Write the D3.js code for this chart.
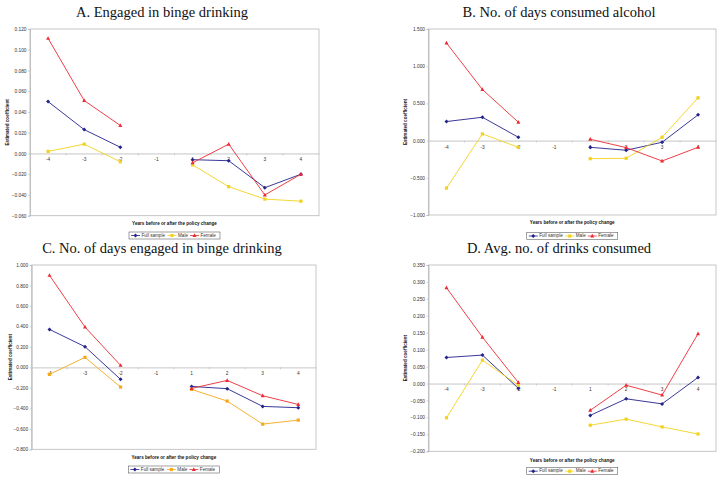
<!DOCTYPE html>
<html>
<head>
<meta charset="utf-8">
<script src="https://cdn.jsdelivr.net/npm/d3@7"></script>
<style>
  html, body { margin: 0; padding: 0; background: #fff; }
  svg { display: block; }
</style>
</head>
<body>
<svg id="chart" width="724" height="482"></svg>
<script>
// ---------------- DATA ----------------
const categories = ["-4", "-3", "-2", "-1", "1", "2", "3", "4"];
const seriesNames = ["Full sample", "Male", "Female"];
const panelTitles = [
  "A. Engaged in binge drinking",
  "B. No. of days consumed alcohol",
  "C. No. of days engaged in binge drinking",
  "D. Avg. no. of drinks consumed"
];
const xAxisTitle = "Years before or after the policy change";
const yAxisTitle = "Estimated coefficient";

// Panel A
const aFull   = [0.050, 0.023, 0.006, null, -0.006, -0.007, -0.033, -0.020];
const aMale   = [0.002, 0.009, -0.008, null, -0.011, -0.032, -0.044, -0.046];
const aFemale = [0.111, 0.051, 0.027, null, -0.009, 0.009, -0.040, -0.020];
const aTicks  = [-0.06, -0.04, -0.02, 0, 0.02, 0.04, 0.06, 0.08, 0.10, 0.12];

// Panel B
const bFull   = [0.256, 0.314, 0.045, null, -0.090, -0.130, -0.022, 0.346];
const bMale   = [-0.638, 0.090, -0.090, null, -0.243, -0.238, 0.045, 0.575];
const bFemale = [1.312, 0.687, 0.247, null, 0.018, -0.094, -0.274, -0.090];
const bTicks  = [-1.0, -0.5, 0, 0.5, 1.0, 1.5];

// Panel C
const cFull   = [0.371, 0.202, -0.117, null, -0.186, -0.208, -0.381, -0.394];
const cMale   = [-0.068, 0.098, -0.192, null, -0.215, -0.329, -0.554, -0.515];
const cFemale = [0.899, 0.394, 0.020, null, -0.205, -0.127, -0.277, -0.362];
const cTicks  = [-0.8, -0.6, -0.4, -0.2, 0, 0.2, 0.4, 0.6, 0.8, 1.0];

// Panel D
const dFull   = [0.077, 0.084, -0.014, null, -0.094, -0.045, -0.060, 0.018];
const dMale   = [-0.101, 0.069, -0.005, null, -0.123, -0.105, -0.128, -0.149];
const dFemale = [0.283, 0.137, 0.003, null, -0.079, -0.005, -0.034, 0.147];
const dTicks  = [-0.20, -0.15, -0.10, -0.05, 0, 0.05, 0.10, 0.15, 0.20, 0.25, 0.30, 0.35];

// ---------------- LAYOUT / STYLE ----------------
const panels = [
  { title: panelTitles[0], series: [aFull, aMale, aFemale], ticks: aTicks,
    left: 30, right: 319, top: 29, bottom: 215.7,
    titleX: 162, titleY: 16.5, yTitleX: 7.5, xTitleY: 224, legendY: 232,
    maleColor: "#f2d21b" },
  { title: panelTitles[1], series: [bFull, bMale, bFemale], ticks: bTicks,
    left: 428.5, right: 716, top: 29, bottom: 215,
    titleX: 559, titleY: 16.5, yTitleX: 405.5, xTitleY: 222.7, legendY: 232.5,
    maleColor: "#f2d21b" },
  { title: panelTitles[2], series: [cFull, cMale, cFemale], ticks: cTicks,
    left: 31.7, right: 316, top: 265, bottom: 449.3,
    titleX: 162, titleY: 253, yTitleX: 10.7, xTitleY: 457.3, legendY: 466,
    maleColor: "#f5a81c" },
  { title: panelTitles[3], series: [dFull, dMale, dFemale], ticks: dTicks,
    left: 428.5, right: 716, top: 265, bottom: 451.3,
    titleX: 559, titleY: 252.5, yTitleX: 405.3, xTitleY: 460.3, legendY: 467.7,
    maleColor: "#f2d21b" }
];

const fullColor = "#23238a";
const femaleColor = "#ec2a33";
const frameColor = "#b8b8b8";
const textColor = "#333";
const sansFont = "'Liberation Sans', Arial, sans-serif";
const serifFont = "'Liberation Serif', 'Times New Roman', serif";

const svg = d3.select("#chart");
const fmt = d3.format(".3f");

function drawMarker(g, shape, x, y, color) {
  if (shape === "diamond") {
    g.append("path").attr("d", `M${x},${y-2}L${x+2},${y}L${x},${y+2}L${x-2},${y}Z`).attr("fill", color);
  } else if (shape === "square") {
    g.append("rect").attr("x", x - 1.6).attr("y", y - 1.6).attr("width", 3.2).attr("height", 3.2).attr("fill", color);
  } else {
    g.append("path").attr("d", `M${x},${y-2.2}L${x+2},${y+1.5}L${x-2},${y+1.5}Z`).attr("fill", color);
  }
}

panels.forEach(p => {
  const g = svg.append("g");
  const colors = [fullColor, p.maleColor, femaleColor];
  const shapes = ["diamond", "square", "triangle"];

  const x = d3.scaleBand().domain(categories).range([p.left, p.right]);
  const y = d3.scaleLinear()
    .domain([p.ticks[0], p.ticks[p.ticks.length - 1]])
    .range([p.bottom, p.top]);

  // title
  g.append("text")
    .attr("x", p.titleX).attr("y", p.titleY)
    .attr("text-anchor", "middle")
    .attr("font-family", serifFont)
    .attr("font-size", 14.5)
    .attr("fill", "#111")
    .text(p.title);

  // frame
  g.append("rect")
    .attr("x", p.left).attr("y", p.top)
    .attr("width", p.right - p.left).attr("height", p.bottom - p.top)
    .attr("fill", "none").attr("stroke", frameColor).attr("stroke-width", 0.8);

  // y axis
  const yAxis = d3.axisLeft(y).tickValues(p.ticks).tickFormat(fmt).tickSize(2).tickPadding(1.5);
  const ya = g.append("g").attr("transform", `translate(${p.left},0)`).call(yAxis);
  ya.select(".domain").attr("stroke", frameColor).attr("stroke-width", 0.8);
  ya.selectAll(".tick line").attr("stroke", frameColor).attr("stroke-width", 0.6);
  ya.selectAll("text")
    .attr("font-family", sansFont).attr("font-size", 4.8).attr("fill", textColor);

  // zero line (category axis)
  const xAxis = d3.axisBottom(x).tickSize(0).tickPadding(4.5);
  const xa = g.append("g").attr("transform", `translate(0,${y(0)})`).call(xAxis);
  xa.select(".domain").attr("stroke", frameColor).attr("stroke-width", 0.8);
  xa.selectAll("text")
    .attr("font-family", sansFont).attr("font-size", 4.8).attr("fill", textColor);
  // category tick marks between categories
  categories.slice(1).forEach(c => {
    g.append("line")
      .attr("x1", x(c)).attr("x2", x(c))
      .attr("y1", y(0)).attr("y2", y(0) + 2)
      .attr("stroke", frameColor).attr("stroke-width", 0.6);
  });

  // axis titles
  g.append("text")
    .attr("transform", `translate(${p.yTitleX},${(p.top + p.bottom) / 2}) rotate(-90)`)
    .attr("text-anchor", "middle").attr("dominant-baseline", "middle")
    .attr("font-family", sansFont).attr("font-size", 4.6).attr("font-weight", "bold")
    .attr("fill", "#111")
    .text(yAxisTitle);

  g.append("text")
    .attr("x", (p.left + p.right) / 2).attr("y", p.xTitleY)
    .attr("text-anchor", "middle").attr("dominant-baseline", "middle")
    .attr("font-family", sansFont).attr("font-size", 4.6).attr("font-weight", "bold")
    .attr("fill", "#111")
    .text(xAxisTitle);

  // series lines
  const line = d3.line()
    .defined(d => d.v !== null)
    .x(d => x(d.c) + x.bandwidth() / 2)
    .y(d => y(d.v));

  p.series.forEach((vals, i) => {
    const pts = categories.map((c, j) => ({ c, v: vals[j] }));
    g.append("path").datum(pts)
      .attr("d", line)
      .attr("fill", "none")
      .attr("stroke", colors[i])
      .attr("stroke-width", 0.9);
  });
  p.series.forEach((vals, i) => {
    categories.forEach((c, j) => {
      if (vals[j] === null) return;
      drawMarker(g, shapes[i], x(c) + x.bandwidth() / 2, y(vals[j]), colors[i]);
    });
  });

  // legend
  const cx = (p.left + p.right) / 2;
  const lw = 91, lh = 7;
  const lx = cx - lw / 2;
  const lg = g.append("g");
  lg.append("rect")
    .attr("x", lx).attr("y", p.legendY).attr("width", lw).attr("height", lh)
    .attr("fill", "#fff").attr("stroke", "#444").attr("stroke-width", 0.5);
  const offsets = [2, 38.5, 61];
  const my = p.legendY + lh / 2;
  seriesNames.forEach((name, i) => {
    const sx = lx + offsets[i];
    lg.append("line")
      .attr("x1", sx).attr("x2", sx + 9)
      .attr("y1", my).attr("y2", my)
      .attr("stroke", colors[i]).attr("stroke-width", 0.8);
    drawMarker(lg, shapes[i], sx + 4.5, my, colors[i]);
    lg.append("text")
      .attr("x", sx + 10.5).attr("y", my)
      .attr("dominant-baseline", "middle")
      .attr("font-family", sansFont).attr("font-size", 4.6)
      .attr("fill", textColor)
      .text(name);
  });
});
</script>
</body>
</html>
